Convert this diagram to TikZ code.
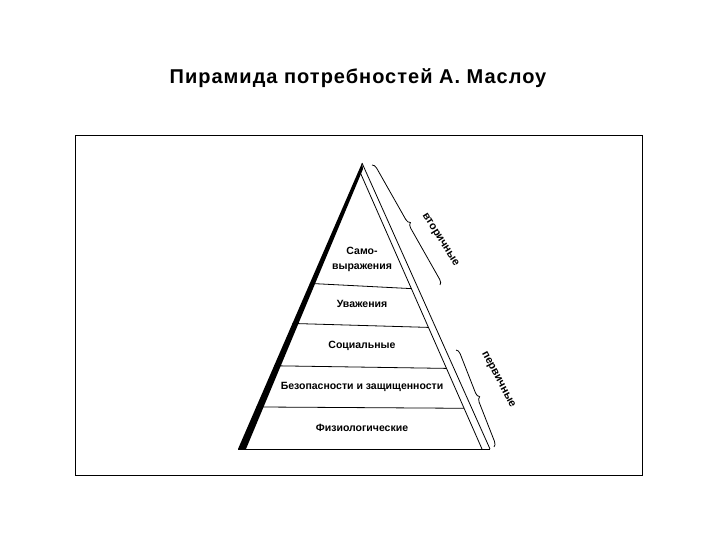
\documentclass[tikz,border=0pt]{standalone}
\usepackage{fontspec}
\setmainfont{Liberation Sans}
\usetikzlibrary{calc,decorations.pathreplacing}
\begin{document}
\begin{tikzpicture}[x=1pt,y=-1pt,
  lay/.style={font=\bfseries\fontsize{10.5}{12}\selectfont,align=center,inner sep=1pt},
  brace/.style={draw,thick,decorate,decoration={brace,amplitude=5pt}},
  side/.style={font=\bfseries\fontsize{11}{12}\selectfont,inner sep=1pt}]
\useasboundingbox (0,0) rectangle (720,540);
\node[font=\bfseries\fontsize{20}{22}\selectfont\addfontfeature{LetterSpace=5}] (title) at (358,78) {Пирамида потребностей А. Маслоу};
\draw[thick] (75,135) rectangle (642,475);
\coordinate (A) at (362,163);
\coordinate (L) at (238,449);
\coordinate (R) at (490,449);
\coordinate (Ri) at (482,449);
\coordinate (Ai) at (360,172);
\fill (A) -- (L) -- ($(L)+(8,0)$) -- ($(A)+(1,6)$) -- cycle;
\draw[thick] (A) -- (R);
\draw[thick] (Ai) -- (Ri);
\draw[thick] (L) -- (R);
\foreach \t/\n in {0.421/a,0.561/b,0.709/c,0.853/d}{
  \coordinate (l\n) at ($(A)!\t!(L)$);
  \coordinate (r\n) at ($(Ai)!\t!(Ri)$);
  \draw[thick] (l\n) -- (r\n);
}
\node[lay] (s1) at (362,259) {Само-\\[3pt]выражения};
\node[lay] (s2) at (362,304) {Уважения};
\node[lay] (s3) at (362,346) {Социальные};
\node[lay] (s4) at (362,387) {Безопасности и защищенности};
\node[lay] (s5) at (362,428) {Физиологические};
\coordinate (b1s) at (372,165);
\coordinate (b1e) at (440,285);
\coordinate (b2s) at (456,350);
\coordinate (b2e) at (494,447);
\draw[brace] (b1s) -- (b1e);
\draw[brace] (b2s) -- (b2e);
\node[side,rotate=-58] (v) at (440,240) {вторичные};
\node[side,rotate=-62] (p) at (498,380) {первичные};
\end{tikzpicture}
\end{document}
